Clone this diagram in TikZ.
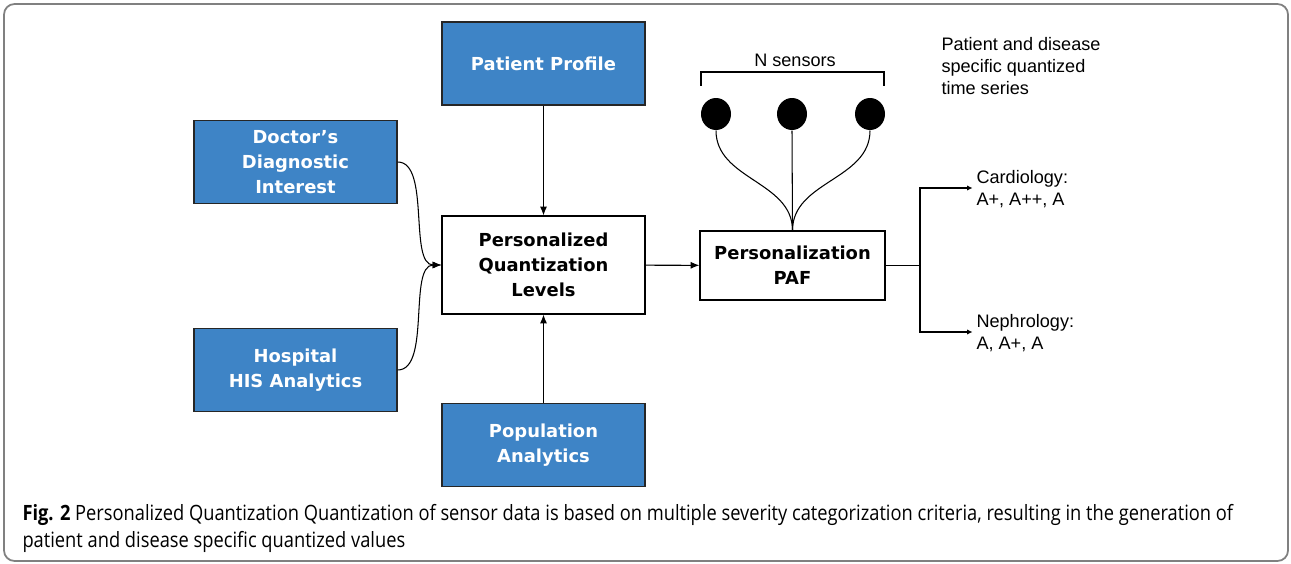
\documentclass[tikz,border=0pt]{standalone}
\usepackage{fontspec}
\setmainfont{Liberation Sans}
\newfontfamily\boxfont{DejaVu Sans}
\newfontfamily\capfont{Open Sans}
\usetikzlibrary{arrows.meta,shapes.geometric}

\definecolor{boxblue}{RGB}{62,132,198}
\definecolor{framegrey}{RGB}{128,128,128}

\tikzset{
  bluebox/.style={draw=black!85,line width=0.8pt,fill=boxblue,text=white,
    minimum width=4.06cm,minimum height=1.66cm,align=center,
    font=\boxfont\bfseries\fontsize{10.2}{14.2}\selectfont},
  whitebox/.style={draw=black,line width=0.7pt,fill=white,align=center,
    font=\boxfont\bfseries\fontsize{10.2}{14.2}\selectfont},
  plain/.style={align=left,font=\fontsize{10.3}{12.5}\selectfont,inner sep=0pt},
  sensor/.style={ellipse,fill=black,minimum width=0.6cm,minimum height=0.64cm,inner sep=0pt},
  caption/.style={anchor=base west,inner sep=0pt,font=\capfont\fontsize{12}{14}\selectfont}
}

\begin{document}
\begin{tikzpicture}[x=0.02cm,y=-0.02cm,>={Latex[length=5pt,width=4pt]},line width=0.6pt]
  \useasboundingbox (0,0) rectangle (1291,564);
  \draw[framegrey,line width=1pt,rounded corners=6pt] (4,4) rectangle (1288,561);

  % input boxes
  \node[bluebox] (profile) at (543.5,63.5) {Patient Profile};
  \node[bluebox] (doctor) at (295.5,162) {Doctor’s\\Diagnostic\\Interest};
  \node[bluebox] (hospital) at (295.5,370) {Hospital\\HIS Analytics};
  \node[bluebox] (population) at (543.5,445) {Population\\Analytics};

  % centre
  \node[whitebox,minimum width=4.06cm,minimum height=1.96cm] (levels) at (543.5,265)
    {Personalized\\Quantization\\Levels};
  \node[whitebox,minimum width=3.7cm,minimum height=1.38cm] (paf) at (792.5,265.5)
    {Personalization\\PAF};

  \draw[->] (profile) -- (levels);
  \draw[->] (population) -- (levels);
  \draw[->] (levels) -- (paf);
  \coordinate (join) at (levels.west);
  \draw[->] (doctor.east) to[out=0,in=180,looseness=0.75] (join);
  \draw[->] (hospital.east) to[out=0,in=180,looseness=0.75] (join);

  % sensors
  \node[sensor] (s1) at (716,114) {};
  \node[sensor] (s2) at (792,114) {};
  \node[sensor] (s3) at (870,114) {};
  \draw (s1.south) to[out=-90,in=90] (paf.north);
  \draw (s2.south) -- (paf.north);
  \draw (s3.south) to[out=-90,in=90] (paf.north);
  \draw (701,86) -- (701,72) -- (884,72) -- (884,86);
  \node[plain] (nsens) at (795,60) {N sensors};
  \node[plain,anchor=north west] (series) at (941,37)
    {Patient and disease\\specific quantized\\time series};

  % outputs
  \coordinate (fork) at (920,265.5);
  \coordinate (forkup) at (920,188);
  \coordinate (forkdown) at (920,332);
  \node[plain,anchor=west] (cardio) at (976,189) {Cardiology:\\A+, A++, A};
  \node[plain,anchor=west] (nephro) at (976,333) {Nephrology:\\A, A+, A};
  \draw (paf.east) -- (fork);
  \draw[-{Latex[length=3pt,width=3pt]}] (fork) -- (forkup) -- ([xshift=-2pt]cardio.west |- forkup);
  \draw[-{Latex[length=3pt,width=3pt]}] (fork) -- (forkdown) -- ([xshift=-2pt]nephro.west |- forkdown);

  % caption
  \node[caption] (cap1) at (22,520)
    {\scalebox{0.867}[1]{\textbf{Fig. 2} Personalized Quantization Quantization of sensor data is based on multiple severity categorization criteria, resulting in the generation of}};
  \node[caption] (cap2) at (22,547)
    {\scalebox{0.867}[1]{patient and disease specific quantized values}};
\end{tikzpicture}
\end{document}
